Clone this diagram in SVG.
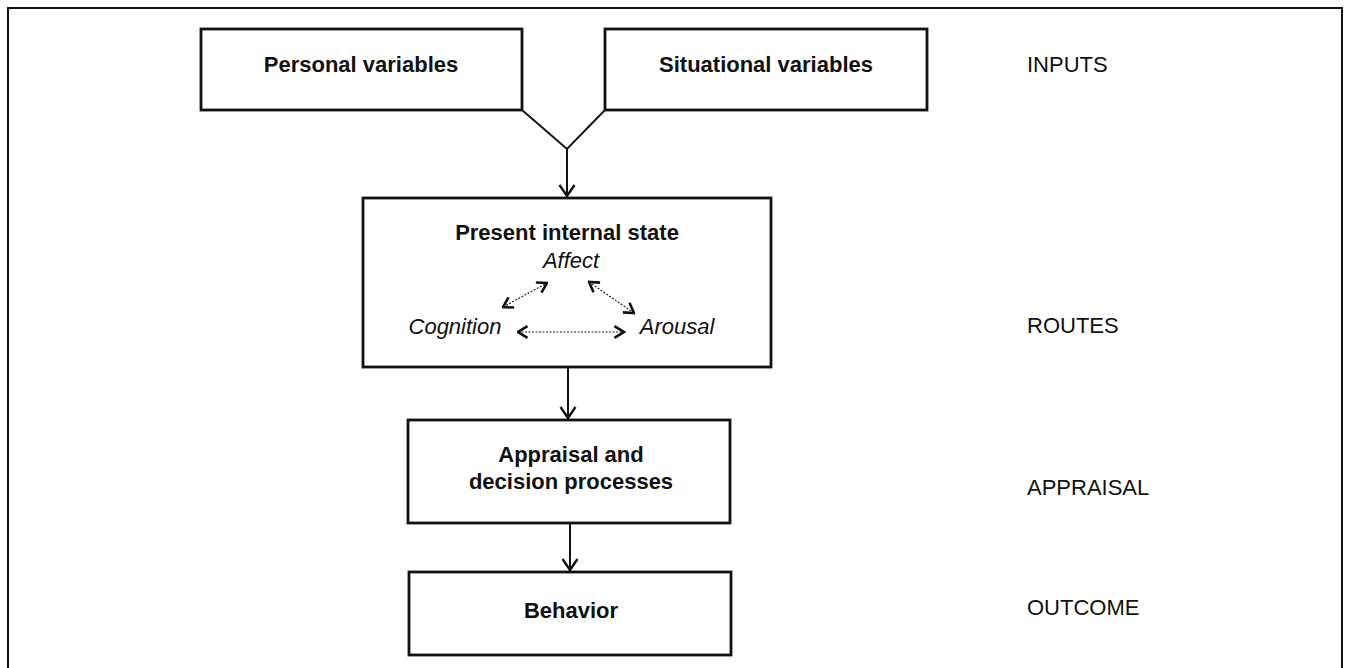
<svg xmlns="http://www.w3.org/2000/svg" width="1345" height="668" viewBox="0 0 1345 668">
<style>
.box{fill:#fff;stroke:#111;stroke-width:2.8}
.t{font-family:"Liberation Sans",Arial,sans-serif;font-size:22px;fill:#111}
.b{font-weight:bold;text-anchor:middle}
.i{font-style:italic}
.c{text-anchor:middle}
.ln{fill:none;stroke:#111;stroke-width:2}
.dl{fill:none;stroke:#222;stroke-width:1.2;stroke-dasharray:2 1.5}
</style>
<defs>
<marker id="ah" viewBox="0 0 14 18" markerWidth="14" markerHeight="18" refX="12" refY="9" orient="auto" markerUnits="userSpaceOnUse">
<path d="M1,1.5 L12,9 L1,16.5" fill="none" stroke="#111" stroke-width="2.4"/>
</marker>
<marker id="sh" viewBox="0 0 12 14" markerWidth="12" markerHeight="14" refX="10.5" refY="7" orient="auto-start-reverse" markerUnits="userSpaceOnUse">
<path d="M1,1.2 L10.5,7 L1,12.8" fill="none" stroke="#111" stroke-width="2.6"/>
</marker>
</defs>
<rect width="1345" height="668" fill="#fff"/>
<path d="M8,672 L8,8 L1342,8 L1342,672" fill="none" stroke="#111" stroke-width="2"/>

<g id="personal">
<rect class="box" x="201" y="29" width="321" height="81"/>
<text class="t b" x="361" y="72">Personal variables</text>
</g>
<g id="situational">
<rect class="box" x="605" y="29" width="322" height="81"/>
<text class="t b" x="766" y="72">Situational variables</text>
</g>
<g id="state">
<rect class="box" x="363" y="198" width="408" height="169"/>
<text class="t b" x="567" y="240">Present internal state</text>
<text class="t i c" x="571" y="268">Affect</text>
<text class="t i c" x="455" y="334">Cognition</text>
<text class="t i c" x="677" y="334">Arousal</text>
<path class="dl" d="M518,332 L624,332" marker-start="url(#sh)" marker-end="url(#sh)"/>
<path class="dl" d="M503,307 L547,283" marker-start="url(#sh)" marker-end="url(#sh)"/>
<path class="dl" d="M589,282 L634,313" marker-start="url(#sh)" marker-end="url(#sh)"/>
</g>
<g id="appraisal">
<rect class="box" x="408" y="420" width="322" height="103"/>
<text class="t b" x="571" y="462">Appraisal and</text>
<text class="t b" x="571" y="489">decision processes</text>
</g>
<g id="behavior">
<rect class="box" x="409" y="572" width="322" height="83"/>
<text class="t b" x="571" y="618">Behavior</text>
</g>
<g id="labels">
<text class="t" x="1027" y="72">INPUTS</text>
<text class="t" x="1027" y="333">ROUTES</text>
<text class="t" x="1027" y="495">APPRAISAL</text>
<text class="t" x="1027" y="615">OUTCOME</text>
</g>
<g id="connectors">
<path class="ln" d="M522,110 L567,149 L605,110"/>
<path class="ln" d="M567,149 L567,196" marker-end="url(#ah)"/>
<path class="ln" d="M568,367 L568,418" marker-end="url(#ah)"/>
<path class="ln" d="M570,523 L570,570" marker-end="url(#ah)"/>
</g>
</svg>
